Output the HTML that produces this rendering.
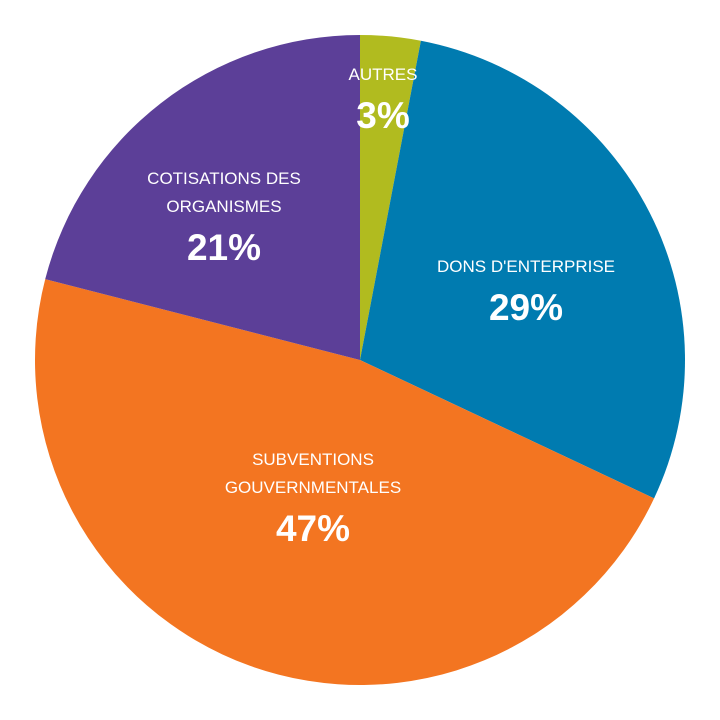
<!DOCTYPE html>
<html><head><meta charset="utf-8"><style>
html,body{margin:0;padding:0;background:#fff;}
svg{display:block;font-family:"Liberation Sans",sans-serif;}
.lbl{fill:#fff;font-size:17px;text-anchor:middle;}
.pct{fill:#fff;font-size:37px;font-weight:bold;text-anchor:middle;}
</style></head><body>
<svg id="chart" width="720" height="720" viewBox="0 0 720 720"></svg>
<script>
const categories = [["AUTRES"], ["DONS D'ENTERPRISE"], ["SUBVENTIONS","GOUVERNMENTALES"], ["COTISATIONS DES","ORGANISMES"]];
const values = [3, 29, 47, 21];
const colors = ["#b1bb1f", "#007bb0", "#f37521", "#5c3f98"];
const labelPos = [[383,80],[526,272],[313,465],[224,184]];
const svg = document.getElementById('chart');
const NS = 'http://www.w3.org/2000/svg';
const cx = 360, cy = 360, r = 325;
const total = values.reduce((a,b)=>a+b,0);
function pt(frac){const a=frac*2*Math.PI;return [cx+r*Math.sin(a), cy-r*Math.cos(a)];}
let acc = 0;
values.forEach((v,i)=>{
  const f0 = acc/total, f1 = (acc+v)/total; acc += v;
  const p0 = pt(f0), p1 = pt(f1);
  const large = (f1-f0) > 0.5 ? 1 : 0;
  const path = document.createElementNS(NS,'path');
  path.setAttribute('d',`M${cx},${cy} L${p0[0]},${p0[1]} A${r},${r} 0 ${large} 1 ${p1[0]},${p1[1]} Z`);
  path.setAttribute('fill',colors[i]);
  
  
  svg.appendChild(path);
});
values.forEach((v,i)=>{
  const [x,y] = labelPos[i];
  const lines = categories[i];
  lines.forEach((t,j)=>{
    const tx = document.createElementNS(NS,'text');
    tx.setAttribute('class','lbl');
    tx.setAttribute('x',x);
    tx.setAttribute('y',y + j*28);
    tx.textContent = t;
    
    
    svg.appendChild(tx);
  });
  const p = document.createElementNS(NS,'text');
  p.setAttribute('class','pct');
  p.setAttribute('x',x);
  p.setAttribute('y',y + (lines.length-1)*28 + 48);
  p.textContent = v + '%';
  
  
  svg.appendChild(p);
});
</script>
</body></html>
